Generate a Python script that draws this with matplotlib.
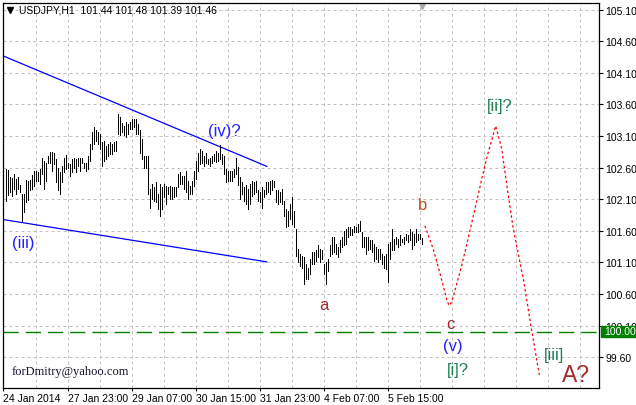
import matplotlib
matplotlib.use("Agg")
import matplotlib.pyplot as plt
from matplotlib.patches import Rectangle

# USDJPY H1, first bar = 24 Jan 2014 16:00 (high / low per bar)
highs = [
    102.58, 102.56, 102.45, 102.44, 102.50, 102.42, 102.45, 102.33, 102.18, 102.18,
    102.41, 102.39, 102.41, 102.48, 102.55, 102.55, 102.53, 102.58, 102.76, 102.71,
    102.68, 102.79, 102.85, 102.85, 102.83, 102.74, 102.60, 102.53, 102.63, 102.75,
    102.80, 102.68, 102.66, 102.74, 102.75, 102.74, 102.75, 102.75, 102.76, 102.68,
    102.68, 102.79, 102.97, 103.17, 103.24, 103.19, 103.17, 103.13, 103.00, 103.03,
    102.94, 102.97, 103.00, 102.97, 103.00, 103.03, 103.45, 103.41, 103.31, 103.26,
    103.32, 103.29, 103.32, 103.37, 103.37, 103.37, 103.29, 103.19, 103.05, 102.79,
    102.79, 102.79, 102.26, 102.34, 102.29, 102.37, 102.18, 102.34, 102.29, 102.34,
    102.31, 102.29, 102.31, 102.29, 102.29, 102.29, 102.50, 102.53, 102.47, 102.47,
    102.55, 102.39, 102.31, 102.39, 102.55, 102.71, 102.84, 102.90, 102.87, 102.79,
    102.84, 102.74, 102.76, 102.79, 102.82, 102.87, 102.84, 102.96, 102.82, 102.79,
    102.58, 102.55, 102.55, 102.55, 102.58, 102.76, 102.61, 102.45, 102.37, 102.29,
    102.32, 102.26, 102.34, 102.39, 102.37, 102.39, 102.24, 102.21, 102.29, 102.24,
    102.37, 102.37, 102.39, 102.41, 102.39, 102.24, 102.24, 102.21, 102.26, 102.08,
    101.95, 101.92, 102.02, 102.13, 101.92, 101.63, 101.31, 101.23, 101.21, 101.18,
    101.08, 101.02, 101.16, 101.26, 101.26, 101.29, 101.37, 101.31, 101.29, 101.08,
    101.10, 101.16, 101.37, 101.50, 101.50, 101.39, 101.34, 101.45, 101.50, 101.60,
    101.63, 101.66, 101.66, 101.63, 101.68, 101.66, 101.71, 101.76, 101.58, 101.50,
    101.50, 101.50, 101.45, 101.45, 101.39, 101.34, 101.31, 101.31, 101.23, 101.21,
    101.23, 101.39, 101.42, 101.63, 101.47, 101.50, 101.47, 101.53, 101.47, 101.50,
    101.55, 101.53, 101.63, 101.58, 101.55, 101.63, 101.55, 101.55, 101.48,
]
lows = [
    102.08, 102.17, 102.21, 102.15, 102.27, 102.18, 102.27, 102.21, 101.76, 101.90,
    102.06, 102.09, 102.25, 102.26, 102.31, 102.39, 102.39, 102.34, 102.50, 102.26,
    102.39, 102.68, 102.68, 102.54, 102.66, 102.37, 102.24, 102.18, 102.37, 102.53,
    102.58, 102.60, 102.47, 102.53, 102.60, 102.53, 102.63, 102.55, 102.68, 102.60,
    102.55, 102.58, 102.71, 102.90, 102.97, 103.03, 102.97, 102.90, 102.63, 102.71,
    102.74, 102.79, 102.82, 102.82, 102.87, 102.87, 103.13, 103.11, 103.16, 103.11,
    103.08, 103.13, 103.21, 103.21, 103.24, 103.13, 103.13, 102.84, 102.74, 102.60,
    102.60, 102.18, 101.97, 102.10, 102.08, 102.05, 101.95, 101.83, 101.95, 102.13,
    102.02, 102.18, 102.10, 102.10, 102.13, 102.16, 102.29, 102.34, 102.34, 102.26,
    102.21, 102.11, 102.18, 102.18, 102.31, 102.42, 102.55, 102.66, 102.68, 102.63,
    102.68, 102.66, 102.63, 102.68, 102.71, 102.69, 102.71, 102.74, 102.66, 102.50,
    102.37, 102.39, 102.39, 102.39, 102.45, 102.50, 102.32, 102.11, 102.18, 102.08,
    102.02, 101.95, 102.02, 102.16, 102.18, 102.21, 102.08, 102.05, 101.97, 102.13,
    102.18, 102.21, 102.18, 102.24, 102.29, 102.05, 102.02, 102.05, 102.02, 101.84,
    101.66, 101.68, 101.79, 101.71, 101.66, 101.21, 101.10, 101.05, 101.02, 100.76,
    100.84, 100.84, 100.92, 101.08, 101.08, 101.13, 101.18, 101.10, 101.16, 100.92,
    100.76, 100.97, 101.21, 101.24, 101.26, 101.23, 101.18, 101.26, 101.34, 101.37,
    101.39, 101.50, 101.53, 101.53, 101.58, 101.58, 101.58, 101.60, 101.34, 101.34,
    101.23, 101.29, 101.31, 101.26, 101.13, 101.16, 101.10, 101.16, 101.08, 101.02,
    101.00, 100.79, 101.16, 101.29, 101.29, 101.39, 101.34, 101.37, 101.42, 101.39,
    101.45, 101.42, 101.45, 101.31, 101.37, 101.42, 101.45, 101.47, 101.39,
]

date_ticks = [-1.35, 31, 63, 95, 127, 159, 191]
date_labels = ["24 Jan 2014", "27 Jan 23:00", "29 Jan 07:00", "30 Jan 15:00",
               "31 Jan 23:00", "4 Feb 07:00", "5 Feb 15:00"]
price_ticks = [99.60, 100.10, 100.60, 101.10, 101.60, 102.10, 102.60,
               103.10, 103.60, 104.10, 104.60, 105.10]

# trend channel (bar index, price)
upper_x = [-1.35, 130.6]
upper_y = [104.37, 102.62]
lower_x = [-1.35, 130.5]
lower_y = [101.78, 101.11]

# projected wave path
wave_x = [209.6, 213.8, 217.2, 220.5, 221.6, 223.0, 225.5, 228.0, 232.1, 235.8,
          238.8, 240.8, 245.0, 248.0, 251.3, 253.8, 259.1, 263.0, 266.8]
wave_y = [101.68, 101.31, 100.92, 100.52, 100.42, 100.47, 100.76, 101.05, 101.60, 102.11,
          102.53, 102.79, 103.26, 102.90, 102.16, 101.63, 100.79, 100.02, 99.32]

level = 100.00

labels = ["(iii)", "(iv)?", "a", "b", "c", "(v)", "[i]?", "[ii]?", "[iii]", "A?"]
label_x = [8.9, 109.4, 158.9, 208.4, 222.6, 223.6, 225.9, 246.9, 274.1, 285.1]
label_y = [101.42, 103.19, 100.43, 102.01, 100.14, 99.78, 99.40, 103.59, 99.65, 99.32]
label_color = ["#2020ff", "#2020ff", "#a52a2a", "#c04a22", "#a52a2a", "#2020ff",
               "#1f7f50", "#1f7f50", "#1f7f50", "#a52a2a"]

plt.rcParams["font.family"] = ["Liberation Sans", "DejaVu Sans"]

fig = plt.figure(figsize=(6.36, 4.06), dpi=100)
ax = fig.add_axes([3 / 636, 17 / 406, 596 / 636, 385 / 406])

ax.set_xlim(-1.35, 296.65)
ax.set_ylim(99.114, 105.206)

# grid
for gx in range(15, 297, 16):
    ax.axvline(gx, color="#c0c0c0", lw=0.72, ls=(0, (3, 3)), zorder=0)
for gy in price_ticks:
    ax.axhline(gy, color="#c0c0c0", lw=0.72, ls=(0, (3, 3)), zorder=0)

# bars
idx = list(range(len(highs)))
ax.vlines(idx, lows, highs, color="black", lw=0.72, antialiased=False, zorder=3)

ax.plot(upper_x, upper_y, color="#0000ff", lw=0.9, zorder=2)
ax.plot(lower_x, lower_y, color="#0000ff", lw=0.9, zorder=2)
ax.plot(wave_x, wave_y, color="#ff0000", lw=0.9, ls=(0, (2, 2)), zorder=2)
ax.axhline(level, color="#008000", lw=1.0, ls=(0, (11, 5)), zorder=2)

for t, x, y, c in zip(labels, label_x, label_y, label_color):
    size = 16.5 if t == "A?" else 12
    ax.text(x, y, t, color=c, fontsize=size, ha="center", va="center", zorder=4)

ax.text(3.2, 99.39, "forDmitry@yahoo.com", family="Liberation Serif", fontsize=9,
        color="#141432", ha="left", va="center")

# axes styling
for s in ax.spines.values():
    s.set_color("black")
    s.set_linewidth(0.9)
ax.yaxis.tick_right()
ax.set_yticks(price_ticks)
ax.set_yticklabels(["%.2f" % p for p in price_ticks])
ax.tick_params(axis="y", direction="out", length=3, width=0.8, pad=1.5, labelsize=7.5)
ax.set_xticks(date_ticks)
ax.set_xticklabels(date_labels, ha="left")
ax.tick_params(axis="x", direction="out", length=2.5, width=0.8, pad=1.0, labelsize=7.5)

# header and markers
ax.plot([(10 - 3) / 596], [(389 - 11) / 385], marker="v", color="black", ms=4.5,
        transform=ax.transAxes, clip_on=False)
ax.plot([(421.5 - 3) / 596], [(389 - 6.5) / 385], marker="v", color="#a8a8a8", ms=5,
        transform=ax.transAxes, clip_on=False)
fig.text(19 / 636, 1 - 10.5 / 406, "USDJPY,H1  101.44 101.48 101.39 101.46",
         fontsize=7.5, va="center", ha="left")

# current level marker on the price scale (drawn over the 100.10 label, as in MT4)
fig.add_artist(Rectangle((601 / 636, (406 - 338) / 406), 35 / 636, 11 / 406,
                         transform=fig.transFigure, color="#008000", zorder=5))
fig.text(604 / 636, 1 - 332.5 / 406, "%.2f" % level, color="white", fontsize=7.5,
         va="center", ha="left", zorder=6)

fig.savefig("out.png", dpi=100)
